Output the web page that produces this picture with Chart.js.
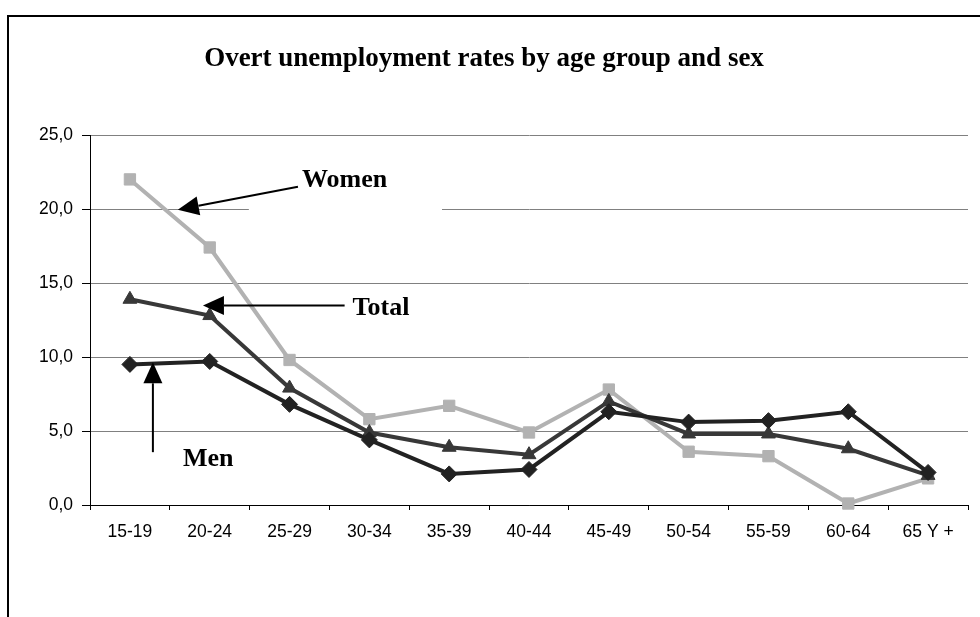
<!DOCTYPE html>
<html>
<head>
<meta charset="utf-8">
<script src="https://cdn.jsdelivr.net/npm/chart.js@4/dist/chart.umd.min.js"></script>
<style>
  html, body { margin: 0; padding: 0; background: #ffffff; }
  #wrap { position: relative; width: 980px; height: 617px; overflow: hidden; }
  #frame { position: absolute; left: 7px; top: 15px; width: 1100px; height: 800px;
           border-left: 2px solid #000; border-top: 2px solid #000; box-sizing: border-box; }
  canvas { position: absolute; left: 0; top: 0; }
</style>
</head>
<body>
<div id="wrap">
  <div id="frame"></div>
  <canvas id="c" width="980" height="617"></canvas>
</div>
<script>
// ---- data ----
const categories = ['15-19','20-24','25-29','30-34','35-39','40-44','45-49','50-54','55-59','60-64','65 Y +'];
const women = [22.0, 17.4, 9.8, 5.8, 6.7, 4.9, 7.8, 3.6, 3.3, 0.1, 1.8];
const total = [13.9, 12.8, 7.9, 4.9, 3.9, 3.4, 7.0, 4.8, 4.8, 3.8, 2.0];
const men   = [9.5, 9.7, 6.8, 4.4, 2.1, 2.4, 6.3, 5.6, 5.7, 6.3, 2.2];
const yTicks = [0, 5, 10, 15, 20, 25];
const titleText = 'Overt unemployment rates by age group and sex';
const labelWomen = 'Women', labelTotal = 'Total', labelMen = 'Men';

// annotation anchors in data units (category index, value)
const annot = {
  gap:   { x0: 1.49, x1: 3.91, v: 20 },
  women: { tx: 2.155, tv: 21.5, ax0: 2.105, av0: 21.5, ax1: 0.60, av1: 19.95 },
  total: { tx: 2.79, tv: 12.87, ax0: 2.69, av0: 13.48, ax1: 0.915, av1: 13.48 },
  menA:  { tx: 0.664, tv: 2.63, ax: 0.288, av0: 3.57, av1: 9.64 }
};

function arrow(ctx, x0, y0, x1, y1) {
  const ang = Math.atan2(y1 - y0, x1 - x0);
  const len = 21, half = 9.5;
  const bx = x1 - Math.cos(ang) * len, by = y1 - Math.sin(ang) * len;
  ctx.beginPath();
  ctx.moveTo(x0, y0);
  ctx.lineTo(bx, by);
  ctx.lineWidth = 2;
  ctx.strokeStyle = '#000';
  ctx.stroke();
  ctx.beginPath();
  ctx.moveTo(x1, y1);
  ctx.lineTo(bx + Math.sin(ang) * half, by - Math.cos(ang) * half);
  ctx.lineTo(bx - Math.sin(ang) * half, by + Math.cos(ang) * half);
  ctx.closePath();
  ctx.fillStyle = '#000';
  ctx.fill();
}

const annotPlugin = {
  id: 'annot',
  beforeDatasetsDraw(chart) {
    const ctx = chart.ctx, xs = chart.scales.x, ys = chart.scales.y;
    const g = annot.gap;
    const y = ys.getPixelForValue(g.v);
    ctx.save();
    ctx.fillStyle = '#ffffff';
    ctx.fillRect(xs.getPixelForValue(g.x0), y - 3, xs.getPixelForValue(g.x1) - xs.getPixelForValue(g.x0), 6);
    ctx.restore();
  },
  afterDatasetsDraw(chart) {
    const ctx = chart.ctx, xs = chart.scales.x, ys = chart.scales.y;
    const X = v => xs.getPixelForValue(v), Y = v => ys.getPixelForValue(v);
    ctx.save();
    ctx.font = 'bold 26px "Liberation Serif", "Times New Roman", serif';
    ctx.fillStyle = '#000';
    ctx.textBaseline = 'alphabetic';
    ctx.textAlign = 'left';
    const w = annot.women, t = annot.total, m = annot.menA;
    ctx.fillText(labelWomen, X(w.tx), Y(w.tv));
    ctx.fillText(labelTotal, X(t.tx), Y(t.tv));
    ctx.fillText(labelMen, X(m.tx), Y(m.tv));
    arrow(ctx, X(w.ax0), Y(w.av0), X(w.ax1), Y(w.av1));
    arrow(ctx, X(t.ax0), Y(t.av0), X(t.ax1), Y(t.av1));
    arrow(ctx, X(m.ax), Y(m.av0), X(m.ax), Y(m.av1));
    ctx.restore();
  }
};

const tickFont = { family: '"Liberation Sans", Arial, sans-serif', size: 17.5 };

new Chart(document.getElementById('c'), {
  type: 'line',
  data: {
    labels: categories,
    datasets: [
      { label: 'Men', data: men, borderColor: '#222222', backgroundColor: '#222222',
        borderWidth: 4, pointStyle: 'rectRot', pointRadius: 8, pointBorderWidth: 1,
        pointBorderColor: '#222222', pointBackgroundColor: '#222222', tension: 0, clip: false },
      { label: 'Total', data: total, borderColor: '#383838', backgroundColor: '#383838',
        borderWidth: 4, pointStyle: 'triangle', pointRadius: 8, pointBorderWidth: 1,
        pointBorderColor: '#383838', pointBackgroundColor: '#383838', tension: 0, clip: false },
      { label: 'Women', data: women, borderColor: '#b2b2b2', backgroundColor: '#b2b2b2',
        borderWidth: 4, pointStyle: 'rect', pointRadius: 8, pointBorderWidth: 1,
        pointBorderColor: '#b2b2b2', pointBackgroundColor: '#b2b2b2', tension: 0, clip: false }
    ]
  },
  options: {
    responsive: false,
    animation: false,
    events: [],
    layout: { padding: { left: 0, right: 12, top: 0, bottom: 0 } },
    plugins: {
      legend: { display: false },
      tooltip: { enabled: false },
      title: {
        display: true,
        text: titleText,
        color: '#000',
        font: { family: '"Liberation Serif", "Times New Roman", serif', size: 27, weight: 'bold', lineHeight: 1.2 },
        padding: { top: 43, bottom: 59.6 }
      }
    },
    scales: {
      x: {
        type: 'category',
        offset: true,
        grid: { offset: true, drawOnChartArea: false, tickLength: 5, tickColor: '#000', lineWidth: 1 },
        border: { display: true, color: '#000', width: 1 },
        ticks: { color: '#000', font: tickFont, padding: 12, maxRotation: 0, autoSkip: false },
        afterFit(scale) { scale.height = 112; }
      },
      y: {
        min: 0, max: 25,
        afterBuildTicks(scale) { scale.ticks = yTicks.map(v => ({ value: v })); },
        grid: {
          color: c => (c.tick && c.tick.value === 0) ? '#000' : '#808080',
          lineWidth: 1, tickLength: 8, tickColor: '#000'
        },
        border: { display: true, color: '#000', width: 1 },
        ticks: { color: '#000', font: tickFont, padding: 9,
                 callback: v => v.toFixed(1).replace('.', ',') },
        afterFit(scale) { scale.width = 90; }
      }
    }
  },
  plugins: [annotPlugin]
});
</script>
</body>
</html>
